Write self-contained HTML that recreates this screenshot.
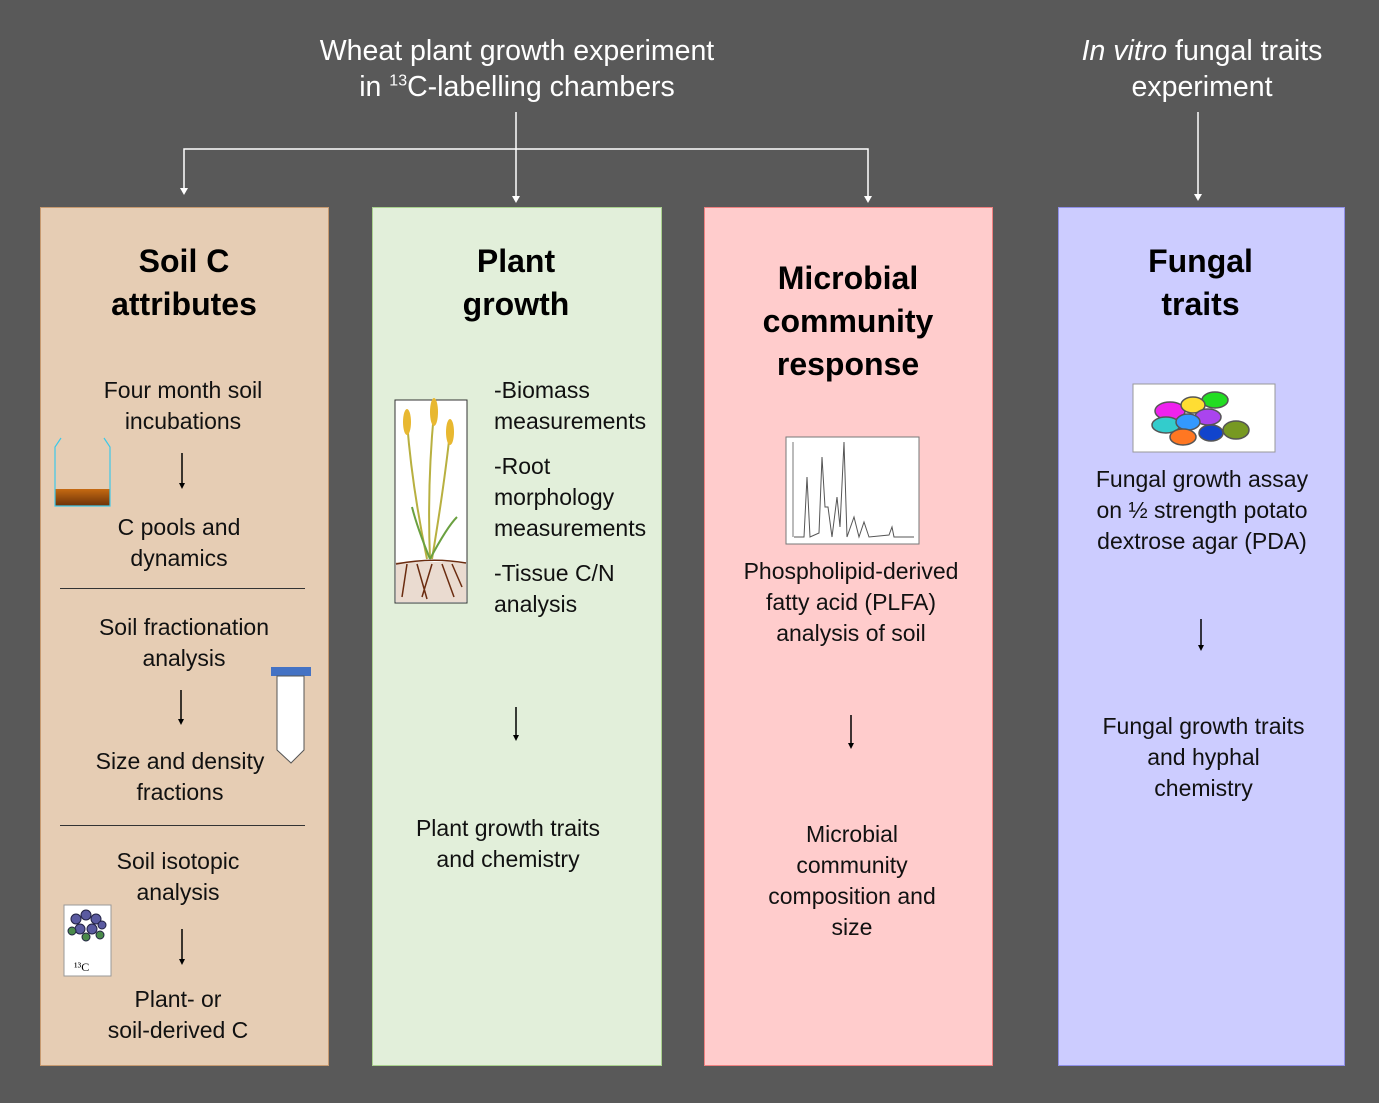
<!DOCTYPE html>
<html><head><meta charset="utf-8"><style>
body{margin:0;width:1379px;height:1103px;background:#595959;position:relative;overflow:hidden;font-family:"Liberation Sans",sans-serif;}
.a{position:absolute;}
.box{position:absolute;top:207px;height:857px;}
.t{position:absolute;text-align:center;font-size:23px;line-height:31px;color:#111;white-space:nowrap;}
.h{position:absolute;text-align:center;font-size:32px;font-weight:bold;line-height:43px;color:#000;}
.w{position:absolute;text-align:center;font-size:28.5px;line-height:36px;color:#fff;white-space:nowrap;}
.hr{position:absolute;height:1px;background:#333;}
</style></head><body>
<div class="w" style="left:267px;width:500px;top:33px">Wheat plant growth experiment<br>in <sup style="font-size:16px;line-height:0">13</sup>C-labelling chambers</div>
<div class="w" style="left:1052px;width:300px;top:33px"><i>In vitro</i> fungal traits<br>experiment</div>
<svg class="a" style="left:0;top:0" width="1379" height="210">
<g stroke="#fff" stroke-width="1.5" fill="none">
<line x1="516" y1="112" x2="516" y2="196"/>
<polyline points="184,190 184,149 868,149 868,196"/>
<line x1="1198" y1="112" x2="1198" y2="196"/>
</g>
<g fill="#fff">
<polygon points="180,188 188,188 184,195"/>
<polygon points="512,196 520,196 516,203"/>
<polygon points="864,196 872,196 868,203"/>
<polygon points="1194,194 1202,194 1198,201"/>
</g></svg>

<div class="box" style="left:40px;width:287px;background:#e6cdb4;border:1px solid #c79a70"></div>
<div class="box" style="left:372px;width:288px;background:#e2efda;border:1px solid #a9d18e"></div>
<div class="box" style="left:704px;width:287px;background:#ffcccc;border:1px solid #f08080"></div>
<div class="box" style="left:1058px;width:285px;background:#ccccff;border:1px solid #8f8fe8"></div>

<!-- col1 -->
<div class="h" style="left:40px;width:288px;top:240px">Soil C<br>attributes</div>
<div class="t" style="left:40px;width:286px;top:375px">Four month soil<br>incubations</div>
<div class="t" style="left:36px;width:286px;top:512px">C pools and<br>dynamics</div>
<div class="hr" style="left:60px;width:245px;top:588px"></div>
<div class="t" style="left:40px;width:288px;top:612px">Soil fractionation<br>analysis</div>
<div class="t" style="left:36px;width:288px;top:746px">Size and density<br>fractions</div>
<div class="hr" style="left:60px;width:245px;top:825px"></div>
<div class="t" style="left:34px;width:288px;top:846px">Soil isotopic<br>analysis</div>
<div class="t" style="left:34px;width:288px;top:984px">Plant- or<br>soil-derived C</div>
<svg class="a" style="left:40px;top:207px" width="288" height="858">
<g stroke="#000" stroke-width="1.5"><line x1="142" y1="246" x2="142" y2="278"/><line x1="141" y1="483" x2="141" y2="514"/><line x1="142" y1="722" x2="142" y2="754"/></g>
<g fill="#000"><polygon points="139,276 145,276 142,282"/><polygon points="138,512 144,512 141,518"/><polygon points="139,752 145,752 142,758"/></g>
<defs><linearGradient id="s" x1="0" y1="0" x2="0" y2="1"><stop offset="0" stop-color="#c66a12"/><stop offset="1" stop-color="#6b3108"/></linearGradient></defs>
<rect x="15" y="282" width="55" height="17" fill="url(#s)"/>
<polyline points="21,231 15,240 15,299 70,299 70,240 64,231" fill="none" stroke="#3cc8e8" stroke-width="1.2"/>
<rect x="231" y="460" width="40" height="9" fill="#4472c4"/>
<path d="M237,469 L264,469 L264,543 L251,556 L237,543 Z" fill="#fff" stroke="#555"/>
<rect x="24" y="698" width="47" height="71" fill="#fff" stroke="#999"/>
<g fill="#5a5aa0" stroke="#224"><circle cx="36" cy="712" r="5"/><circle cx="46" cy="708" r="5"/><circle cx="56" cy="712" r="5"/><circle cx="40" cy="722" r="5"/><circle cx="52" cy="722" r="5"/><circle cx="62" cy="718" r="4"/></g>
<g fill="#4a8a4a" stroke="#224"><circle cx="32" cy="724" r="4"/><circle cx="60" cy="728" r="4"/><circle cx="46" cy="730" r="4"/></g>
<text x="34" y="764" font-size="12" font-family="Liberation Serif">¹³C</text>
</svg>

<!-- col2 -->
<div class="h" style="left:372px;width:288px;top:240px">Plant<br>growth</div>
<div class="t" style="left:494px;top:375px;text-align:left">-Biomass<br>measurements</div>
<div class="t" style="left:494px;top:451px;text-align:left">-Root<br>morphology<br>measurements</div>
<div class="t" style="left:494px;top:558px;text-align:left">-Tissue C/N<br>analysis</div>
<div class="t" style="left:364px;width:288px;top:813px">Plant growth traits<br>and chemistry</div>
<svg class="a" style="left:372px;top:207px" width="288" height="858">
<g stroke="#000" stroke-width="1.5"><line x1="144" y1="500" x2="144" y2="530"/></g><polygon points="141,528 147,528 144,534" fill="#000"/>
<rect x="23" y="193" width="72" height="203" fill="#fff" stroke="#333"/>
<rect x="24" y="355" width="70" height="40" fill="#eadbd0"/>
<g stroke="#6b2c10" stroke-width="1.5" fill="none"><path d="M24,357 Q60,350 94,356"/><path d="M35,357 L30,390 M45,357 L55,392 M60,357 L50,390 M70,357 L82,390 M80,357 L90,380"/></g>
<g stroke="#b8b040" stroke-width="2" fill="none"><path d="M58,352 Q55,280 62,205"/><path d="M55,352 Q40,280 35,215"/><path d="M60,352 Q72,280 78,225"/></g>
<g stroke="#6aa040" stroke-width="2" fill="none"><path d="M58,352 Q45,320 40,300"/><path d="M58,352 Q75,320 85,310"/></g>
<g fill="#e8b830"><ellipse cx="62" cy="205" rx="4" ry="14"/><ellipse cx="35" cy="215" rx="4" ry="13"/><ellipse cx="78" cy="225" rx="4" ry="13"/></g>
</svg>

<!-- col3 -->
<div class="h" style="left:704px;width:288px;top:257px">Microbial<br>community<br>response</div>
<div class="t" style="left:704px;width:294px;top:556px">Phospholipid-derived<br>fatty acid (PLFA)<br>analysis of soil</div>
<div class="t" style="left:708px;width:288px;top:819px">Microbial<br>community<br>composition and<br>size</div>
<svg class="a" style="left:704px;top:207px" width="288" height="858">
<g stroke="#000" stroke-width="1.5"><line x1="147" y1="508" x2="147" y2="538"/></g><polygon points="144,536 150,536 147,542" fill="#000"/>
<rect x="82" y="230" width="133" height="107" fill="#fff" stroke="#777"/>
<polyline points="90,330 100,330 103,270 106,330 115,326 118,250 121,300 124,300 128,330 133,290 136,320 140,235 143,330 150,310 155,330 160,315 165,330 185,328 188,320 190,330 210,330" fill="none" stroke="#555" stroke-width="1"/>
<line x1="89" y1="235" x2="89" y2="330" stroke="#777"/>
</svg>

<!-- col4 -->
<div class="h" style="left:1058px;width:285px;top:240px">Fungal<br>traits</div>
<div class="t" style="left:1058px;width:288px;top:464px">Fungal growth assay<br>on ½ strength potato<br>dextrose agar (PDA)</div>
<div class="t" style="left:1062px;width:283px;top:711px">Fungal growth traits<br>and hyphal<br>chemistry</div>
<svg class="a" style="left:1058px;top:207px" width="285" height="858">
<g stroke="#000" stroke-width="1.5"><line x1="143" y1="412" x2="143" y2="440"/></g><polygon points="140,438 146,438 143,444" fill="#000"/>
<rect x="75" y="177" width="142" height="68" fill="#fff" stroke="#999"/>
<g stroke="#555" stroke-width="1.5">
<ellipse cx="112" cy="204" rx="15" ry="9" fill="#ee22ee"/>
<ellipse cx="157" cy="193" rx="13" ry="8" fill="#22dd22"/>
<ellipse cx="135" cy="198" rx="12" ry="8" fill="#ffdd33"/>
<ellipse cx="108" cy="218" rx="14" ry="8" fill="#33cccc"/>
<ellipse cx="150" cy="210" rx="13" ry="8" fill="#aa44ee"/>
<ellipse cx="130" cy="215" rx="12" ry="8" fill="#3399ff"/>
<ellipse cx="125" cy="230" rx="13" ry="8" fill="#ff7722"/>
<ellipse cx="153" cy="226" rx="12" ry="8" fill="#1144cc"/>
<ellipse cx="178" cy="223" rx="13" ry="9" fill="#779922"/>
</g></svg>
</body></html>
